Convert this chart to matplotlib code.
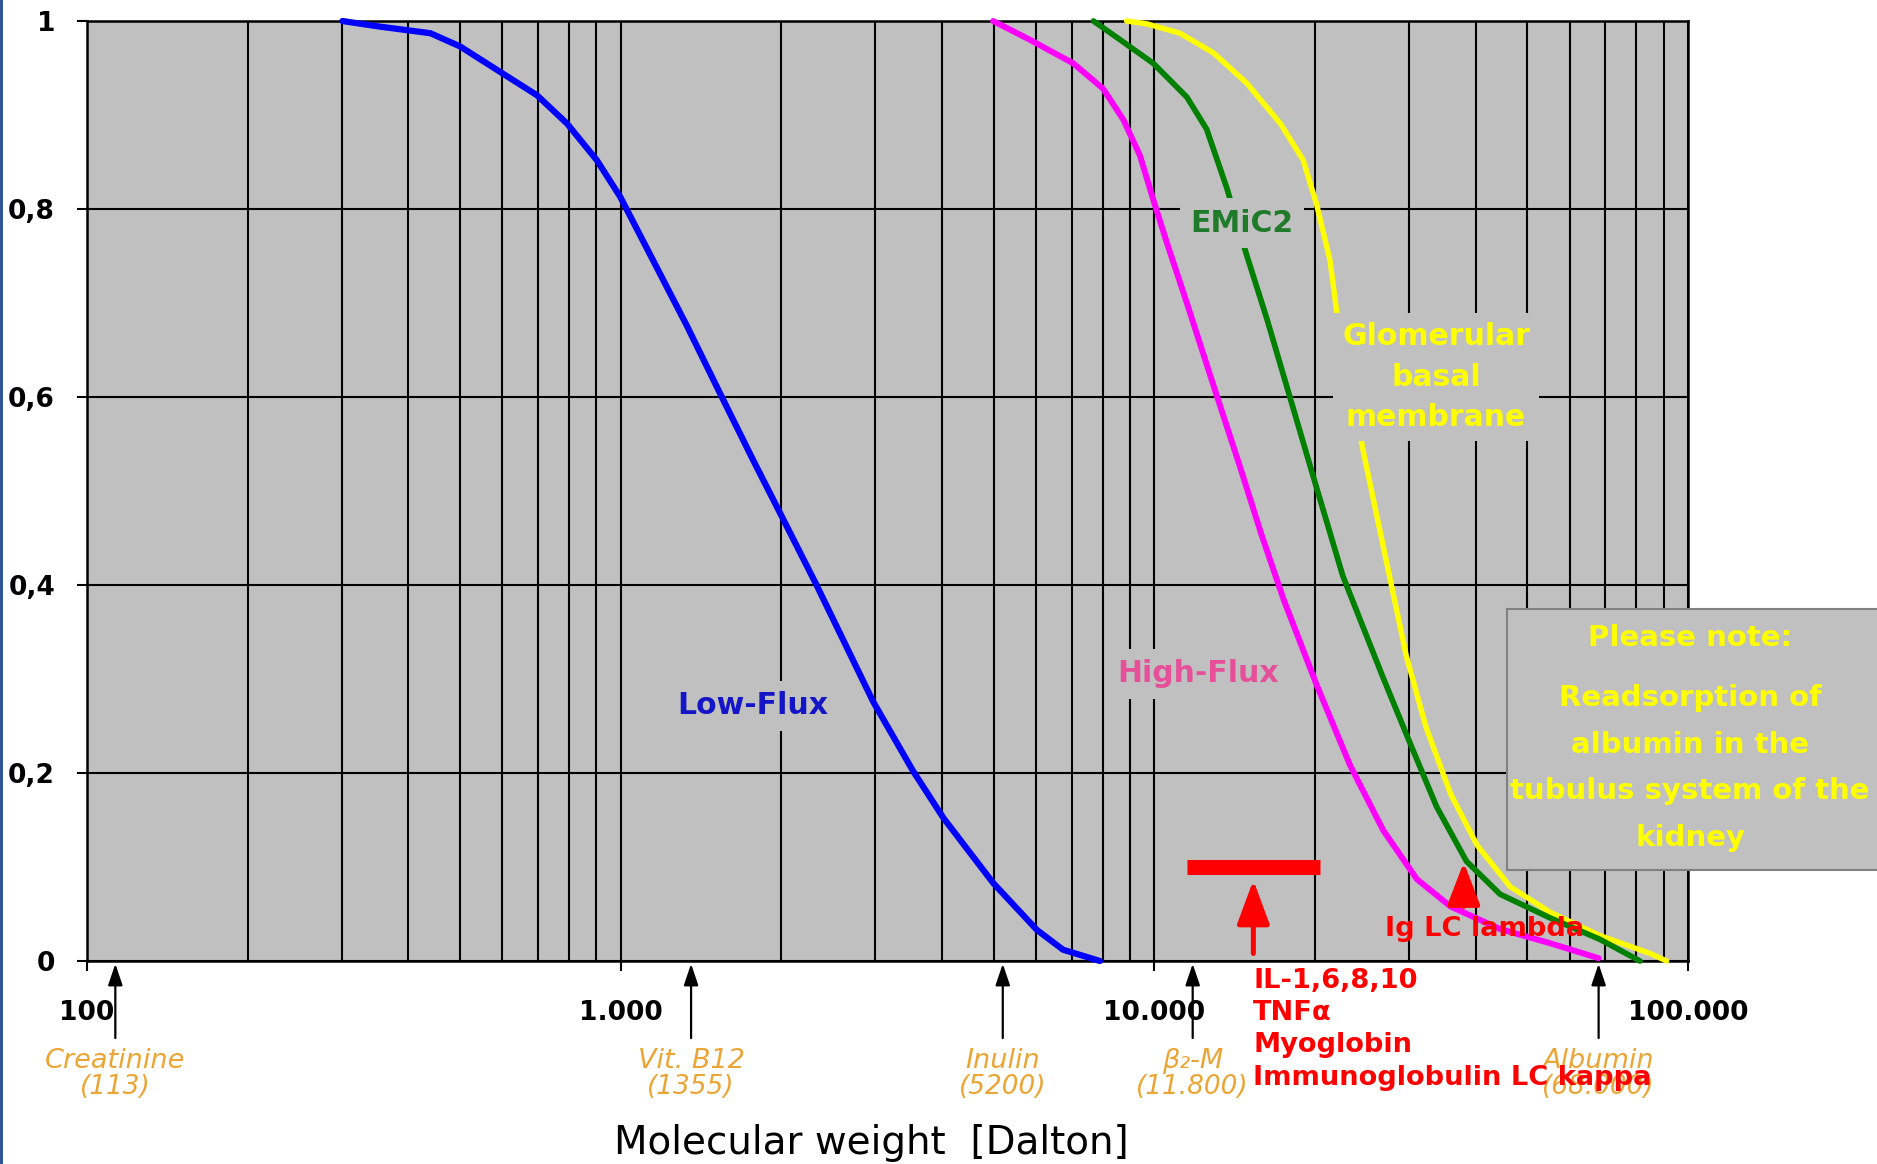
import matplotlib
matplotlib.use('Agg')
import matplotlib.pyplot as plt
from matplotlib.patches import Rectangle
from matplotlib.ticker import NullFormatter
import matplotlib.transforms as mtransforms

plt.rcParams['font.family'] = ['DejaVu Sans']

# ---------------- data ----------------
low_flux_mw = [301, 354, 440, 500, 594, 697, 793, 902, 998, 1151, 1330, 1535, 1774,
               1959, 2328, 2972, 3532, 4027, 4989, 6026, 6745, 7907]
low_flux_frac = [1.0, 0.994, 0.987, 0.973, 0.946, 0.921, 0.891, 0.852, 0.813, 0.745, 0.676,
                 0.604, 0.532, 0.484, 0.400, 0.276, 0.202, 0.152, 0.083, 0.033, 0.012, 0.0]

high_flux_mw = [4989, 5848, 7047, 8017, 8750, 9397, 9954, 10544, 11508, 12912, 14488,
                15849, 17458, 20137, 23281, 26853, 31046, 35892, 44463, 55081, 68000]
high_flux_frac = [1.0, 0.98, 0.955, 0.928, 0.895, 0.857, 0.810, 0.765, 0.700, 0.612, 0.525,
                  0.455, 0.385, 0.294, 0.208, 0.139, 0.087, 0.058, 0.034, 0.019, 0.003]

emic2_mw = [7691, 8630, 9954, 11508, 12531, 13677, 14894, 16255, 17947, 19861, 22542,
            26853, 30130, 33810, 38459, 44463, 55081, 68391, 81283]
emic2_frac = [1.0, 0.98, 0.955, 0.919, 0.885, 0.822, 0.751, 0.683, 0.600, 0.515, 0.41,
              0.301, 0.232, 0.164, 0.106, 0.071, 0.046, 0.023, 0.0]

gbm_mw = [8872, 9683, 11169, 12912, 14894, 17219, 19011, 20137, 21330, 21979, 24660,
          26853, 29648, 32285, 35892, 40272, 46452, 55081, 68391, 84918, 91201]
gbm_frac = [1.0, 0.997, 0.987, 0.966, 0.934, 0.891, 0.852, 0.805, 0.746, 0.690, 0.541,
            0.441, 0.325, 0.249, 0.178, 0.123, 0.079, 0.052, 0.027, 0.008, 0.0]

marker_names = ['Creatinine', 'Vit. B12', 'Inulin', 'β₂-M', 'Albumin']
marker_mw = [113, 1355, 5200, 11800, 68000]
marker_mw_labels = ['(113)', '(1355)', '(5200)', '(11.800)', '(68.000)']

il_range_mw = [11500, 20400]
il_range_level = 0.1
il_arrow = (15330, 0.086)
lambda_arrow = (38000, 0.105)

x_ticks = [100, 1000, 10000, 100000]
x_tick_labels = ['100', '1.000', '10.000', '100.000']
y_ticks = [0, 0.2, 0.4, 0.6, 0.8, 1.0]
y_tick_labels = ['0', '0,2', '0,4', '0,6', '0,8', '1']

red_lines = ['IL-1,6,8,10', 'TNFα', 'Myoglobin', 'Immunoglobulin LC kappa']
note_lines = ['Please note:', 'Readsorption of', 'albumin in the',
              'tubulus system of the', 'kidney']

# ---------------- figure ----------------
W, H = 1877, 1164
fig = plt.figure(figsize=(W / 100, H / 100), dpi=100)
fig.patch.set_facecolor('white')


def fx(px):
    return px / W


def fy(py):
    return 1 - py / H


ax = fig.add_axes([fx(87), fy(961), (1688 - 87) / W, (961 - 21) / H])
ax.set_facecolor('#C0C0C0')
ax.set_xscale('log')
ax.set_xlim(100, 100000)
ax.set_ylim(0, 1)
ax.set_xticks(x_ticks)
ax.set_xticklabels(x_tick_labels)
ax.set_xticks([m * 10 ** e for e in (2, 3, 4) for m in range(2, 10)], minor=True)
ax.xaxis.set_minor_formatter(NullFormatter())
ax.set_yticks(y_ticks)
ax.set_yticklabels(y_tick_labels)
ax.set_axisbelow(True)
ax.grid(True, which='both', axis='x', color='black', lw=1.5)
ax.grid(True, which='major', axis='y', color='black', lw=1.5)
ax.tick_params(which='minor', length=0)
ax.tick_params(axis='y', which='major', length=7, width=1.5, direction='out',
               labelsize=19, pad=16)
ax.tick_params(axis='x', which='major', length=7, width=1.5, direction='out',
               labelsize=19, pad=21)
for lab in ax.get_xticklabels() + ax.get_yticklabels():
    lab.set_fontweight('bold')
for s in ax.spines.values():
    s.set_color('black')
    s.set_linewidth(1.8)

# curves
ax.plot(gbm_mw, gbm_frac, color='#FFFF00', lw=3.9, zorder=3, clip_on=False,
        solid_capstyle='round', solid_joinstyle='round')
ax.plot(emic2_mw, emic2_frac, color='#008000', lw=4.1, zorder=3.1, clip_on=False,
        solid_capstyle='round', solid_joinstyle='round')
ax.plot(high_flux_mw, high_flux_frac, color='#FF00FF', lw=4.3, zorder=3.2, clip_on=False,
        solid_capstyle='round', solid_joinstyle='round')
ax.plot(low_flux_mw, low_flux_frac, color='#0000FF', lw=4.5, zorder=3.3, clip_on=False,
        solid_capstyle='round', solid_joinstyle='round')

# red range bar and arrows
ax.plot(il_range_mw, [il_range_level, il_range_level], color='#FF0000', lw=10.8,
        solid_capstyle='butt', zorder=6)
ax.annotate('', xy=il_arrow, xytext=(il_arrow[0], 0.008),
            arrowprops=dict(arrowstyle='-|>,head_length=1.35,head_width=0.5',
                            color='#FF0000', lw=3.6, mutation_scale=20,
                            shrinkA=0, shrinkB=0), zorder=6)
ax.annotate('', xy=lambda_arrow, xytext=(lambda_arrow[0], 0.058),
            arrowprops=dict(arrowstyle='-|>,head_length=1.3,head_width=0.5',
                            color='#FF0000', lw=3.6, mutation_scale=20,
                            shrinkA=0, shrinkB=0), zorder=6)

# black marker arrows and orange labels below the axis
blend = mtransforms.blended_transform_factory(ax.transData, ax.transAxes)
for name, mw, lab in zip(marker_names, marker_mw, marker_mw_labels):
    ax.annotate('', xy=(mw, -0.003), xycoords=blend, xytext=(mw, -0.082),
                textcoords=blend, annotation_clip=False,
                arrowprops=dict(arrowstyle='-|>,head_length=0.65,head_width=0.22',
                                color='black', lw=1.6, mutation_scale=20,
                                shrinkA=0, shrinkB=0))
    ax.text(mw, -0.1064, name, transform=blend, ha='center', va='center',
            fontsize=19.5, style='italic', color='#EBA534', clip_on=False)
    ax.text(mw, -0.134, lab, transform=blend, ha='center', va='center',
            fontsize=19, style='italic', color='#EBA534', clip_on=False)

# curve labels
box = dict(boxstyle='square,pad=0.35', fc='#C0C0C0', ec='none')
fig.text(fx(753), fy(706), 'Low-Flux', ha='center', va='center', fontsize=21.5,
         fontweight='bold', color='#1515C8', bbox=box, zorder=5)
fig.text(fx(1198), fy(674), 'High-Flux', ha='center', va='center', fontsize=21.5,
         fontweight='bold', color='#E6509A', bbox=box, zorder=5)
fig.text(fx(1242), fy(223), 'EMiC2', ha='center', va='center', fontsize=21.5,
         fontweight='bold', color='#1F7A2A', bbox=box, zorder=5)
fig.text(fx(1436), fy(377), 'Glomerular\nbasal\nmembrane', ha='center', va='center',
         fontsize=21.5, fontweight='bold', color='#FFFF00', linespacing=1.5,
         bbox=dict(boxstyle='square,pad=0.3', fc='#C0C0C0', ec='none'), zorder=5)

# red texts
fig.text(fx(1385), fy(936), 'Ig LC lambda', ha='left', va='baseline', fontsize=19.6,
         fontweight='bold', color='#FF0000', zorder=7)
for line, b in zip(red_lines, [988, 1020, 1052, 1085]):
    fig.text(fx(1253), fy(b), line, ha='left', va='baseline', fontsize=19.6,
             fontweight='bold', color='#FF0000', zorder=7)

# note box
fig.add_artist(Rectangle((fx(1507), fy(870)), (1885 - 1507) / W, (870 - 609) / H,
                         transform=fig.transFigure, fc='#C0C0C0', ec='#808080',
                         lw=1.5, zorder=8))
for line, b in zip(note_lines, [646, 706, 753, 799, 846]):
    fig.text(fx(1690), fy(b), line, ha='center', va='baseline', fontsize=21,
             fontweight='bold', color='#FFFF00', zorder=9)

# axis title
fig.text(fx(871), fy(1143), 'Molecular weight  [Dalton]', ha='center', va='center',
         fontsize=28, color='black')

# slide border on the left
fig.add_artist(Rectangle((0, 0), 3 / W, 1, transform=fig.transFigure,
                         fc='#2F5597', ec='none', zorder=10))

fig.savefig('out.png', dpi=100)
